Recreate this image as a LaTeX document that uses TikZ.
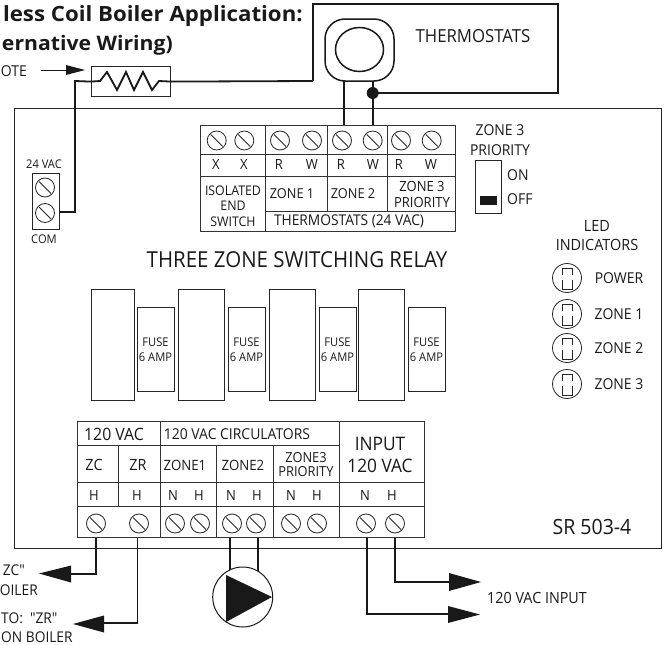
\documentclass[tikz,border=0pt]{standalone}
\usepackage{fontspec}
\usetikzlibrary{shapes.geometric}
\setmainfont[FakeStretch=0.93]{Open Sans}
\newfontfamily\titlefont[FakeStretch=1.06]{Open Sans}
\newfontfamily\rawfont[FakeStretch=0.93]{Open Sans}
\tikzset{
  box/.style={draw=black!85,line width=1pt},
  cell/.style={draw=black!80,line width=0.9pt},
  wire/.style={draw=black!90,line width=1.8pt},
  lab/.style={inner sep=0pt,text=black!90,align=center,font=\fontsize{#1}{#1}\selectfont},
  lab/.default=14,
  titletext/.style={inner sep=0pt,anchor=base east,text=black!90,font=\titlefont\bfseries\fontsize{#1}{#1}\selectfont},
  screwring/.style={circle,draw=black!85,line width=0.8pt,minimum size=19pt,inner sep=0pt,
    path picture={\draw[black!85,line width=0.8pt] (path picture bounding box.north west)++(3.5pt,-3.5pt) -- ([xshift=-3.5pt,yshift=3.5pt]path picture bounding box.south east);}},
  ledring/.style={circle,draw=black!85,line width=0.8pt,minimum size=29pt,inner sep=0pt},
  tipend/.style={fill=black!90,draw=none}
}
\newcommand{\ledglyph}[1]{%
  \draw[black!85,line width=0.8pt] (#1)++(-5,-3) -- ++(0,-7) -- ++(10,0) -- ++(0,7);
  \draw[black!85,line width=0.8pt] (#1)++(-5,2) -- ++(0,9) -- ++(10,0) -- ++(0,-9);}
\begin{document}
\begin{tikzpicture}[x=1pt,y=-1pt]
\useasboundingbox (0,0) rectangle (665,645);
% title
\node[titletext=21] (t1) at (303,21) {less Coil Boiler Application:};
\node[titletext=20] (t2) at (173,50) {ernative Wiring)};
\node[lab=15,anchor=east] (note) at (27,71) {OTE};
\coordinate (noteS) at (41,70);
\coordinate (noteB) at (66,70);
\draw[wire,line width=1pt] (noteS) -- (noteB);
\fill[tipend] (66,65) -- (85,70) -- (66,75) -- cycle;
% main case
\node[box,minimum width=647pt,minimum height=440.5pt,inner sep=0pt,anchor=north west] (main) at (14,107.5) {};
% thermostats
\coordinate (tbLeft) at (313,81);
\coordinate (tbDot) at (372.7,93);
\draw[wire] (tbLeft) -- (313,4) -- (558,4) -- (558,93) -- (tbDot);
\node[draw=black!90,line width=1.5pt,rounded corners=20pt,minimum width=69pt,minimum height=62pt,inner sep=0pt] (stat) at (359.5,50) {};
\node[ellipse,draw=black!90,line width=1.5pt,minimum width=48pt,minimum height=44pt,inner sep=0pt] (dial) at (359.5,49.5) {};
\node[lab=18] (thermo) at (473,36) {THERMOSTATS};
\fill[black!90] (tbDot) circle (6);
% resistor
\node[draw=black!85,line width=1.2pt,minimum width=79pt,minimum height=30pt,inner sep=0pt,anchor=north west] (res) at (91,66) {};
\draw[wire] (res.east) -- (tbLeft);
\draw[wire] (res.west) -- (100,81) -- (107,72) -- (117,90) -- (126,72) -- (134,90) -- (143,72) -- (152,90) -- (159,81) -- (res.east);
% 24 VAC
\node[box,minimum width=27pt,minimum height=56pt,inner sep=0pt,anchor=north west] (ac) at (32,173) {};
\node[lab=12] (ac1) at (44,164) {24 VAC};
\node[lab=12] (ac2) at (44,239.5) {COM};
\node[screwring,minimum size=19pt] (acs1) at (45,187.5) {};
\node[screwring,minimum size=19pt] (acs2) at (45,213) {};
\coordinate (acW) at (59,212);
\draw[wire] (res.west) -- (75,81) -- (75,212) -- (acW);
% top terminal block
\coordinate (blockT) at (0,125);
\draw[cell] (200,125) rectangle (455.7,231);
\draw[cell] (200,154.5) -- (455.7,154.5) (200,176) -- (455.7,176) (265,211) -- (455.7,211);
\draw[cell] (265,125) -- (265,231) (327.3,125) -- (327.3,211) (387.7,125) -- (387.7,211);
\foreach \n/\x in {a/216.7,b/244.3,c/280,d/312,e/342,f/372.7,g/401,h/431.7}
  \node[screwring] (ts\n) at (\x,140.5) {};
\foreach \n/\x/\t in {a/216/X,b/244/X,c/279/R,d/312/W,e/341/R,f/373/W,g/399/R,h/431/W}
  \node[lab=14] (tl\n) at (\x,165) {\t};
\node[lab=13.3,align=center] (iso) at (233,206) {ISOLATED\\[2.2pt]END\\[2.2pt]SWITCH};
\node[lab=13.7] (z1) at (292,194) {ZONE 1};
\node[lab=13.7] (z2) at (353,194) {ZONE 2};
\node[lab=14,align=center] (z3) at (422,194) {ZONE 3\\[2pt]PRIORITY};
\node[lab=14.8] (tv) at (349,221) {THERMOSTATS (24 VAC)};
\draw[wire] (344,81) -- (344,125);
\draw[wire] (tbDot |- stat.south) -- (tsf |- blockT);
% priority switch
\node[lab=15,align=center] (zp) at (500,140) {ZONE 3\\[4.5pt]PRIORITY};
\node[box,minimum width=25.5pt,minimum height=53pt,inner sep=0pt,anchor=north west] (sw) at (475,160) {};
\node[fill=black!90,minimum width=17pt,minimum height=8.5pt,inner sep=0pt] (slide) at (488.5,200.3) {};
\node[lab=15,anchor=west] (on) at (507,175) {ON};
\node[lab=15,anchor=west] (off) at (507,199) {OFF};
% LEDs
\node[lab=15.5,align=center] (ledt) at (597,235.5) {LED\\[3.5pt]INDICATORS};
\foreach \n/\y/\t in {p/278/POWER,a/314/ZONE 1,b/348/ZONE 2,c/384/ZONE 3}{
  \node[ledring] (led\n) at (567,\y) {};
  \ledglyph{led\n}
  \node[lab=15] (ledl\n) at (619,\y) {\t};
}
% title of relay
\node[lab=22] (relay) at (297,260) {THREE ZONE SWITCHING RELAY};
% relays and fuses
\foreach \n/\x/\w in {a/90.7/43.3,b/178/46,c/269/46,d/358/46}
  \node[box,minimum width=\w pt,minimum height=110.5pt,inner sep=0pt,anchor=north west] (rel\n) at (\x,289) {};
\foreach \n/\x in {a/137,b/228,c/319,d/408}{
  \node[box,minimum width=37pt,minimum height=84pt,inner sep=0pt,anchor=north west] (fus\n) at (\x,307) {};
  \node[lab=12,align=center] (ful\n) at (\x+18.5,349.5) {FUSE\\[3pt]6 AMP};
}
% bottom terminal block
\draw[cell] (77,421.7) rectangle (424.7,537.7);
\draw[cell] (77,445.5) -- (339,445.5) (77,482.5) -- (424.7,482.5) (77,506.5) -- (424.7,506.5);
\draw[cell] (160.5,421.7) -- (160.5,537.7) (118,445.5) -- (118,506.5) (216,445.5) -- (216,537.7) (273.5,445.5) -- (273.5,537.7) (339,421.7) -- (339,537.7);
\node[lab=17] (b1) at (114,434) {120 VAC};
\node[lab=15] (b2) at (237,434) {120 VAC CIRCULATORS};
\node[lab=15.5] (bzc) at (94,465) {ZC};
\node[lab=15.5] (bzr) at (138,465) {ZR};
\node[lab=14.2] (bz1) at (185,465) {ZONE1};
\node[lab=14.2] (bz2) at (243,465) {ZONE2};
\node[lab=13.8,align=center] (bz3) at (306,464.5) {ZONE3\\[1pt]PRIORITY};
\node[lab=18.6,align=center] (binp) at (380,455) {INPUT\\[3.4pt]120 VAC};
\foreach \n/\x/\t in {a/94/H,b/137/H,c/173/N,d/199/H,e/231/N,f/257/H,g/291/N,h/317/H,i/365/N,j/392/H}
  \node[lab=14] (bh\n) at (\x,495.5) {\t};
\foreach \n/\x in {a/96,b/139,c/175,d/200,e/232,f/256,g/291,h/317,i/366,j/395}
  \node[screwring] (bs\n) at (\x,523.5) {};
\node[lab=21] (model) at (592,527) {SR 503-4};
% outgoing wires
\coordinate (zcE) at (70,574);
\coordinate (zrE) at (103,623);
\coordinate (nE) at (449,614);
\coordinate (hE) at (449,581.7);
\draw[wire] (96,537.7) |- (zcE);
\fill[tipend] (71,565.5) -- (39,573.5) -- (71,582.5) -- cycle;
\draw[wire] (137.5,537.7) |- (zrE);
\fill[tipend] (104,615.5) -- (73,624) -- (104,632.5) -- cycle;
\draw[wire] (366.7,537.7) |- (nE);
\fill[tipend] (448,606) -- (480,614.5) -- (448,623) -- cycle;
\draw[wire] (394.7,537.7) |- (hE);
\fill[tipend] (449,573) -- (481,582) -- (449,591) -- cycle;
\node[lab=15.4] (inp) at (537,598) {120 VAC INPUT};
\node[lab=14.8,anchor=east] (zc1) at (25,570) {\rawfont ZC"};
\node[lab=14.8,anchor=east] (zc2) at (38,590) {OILER};
\node[lab=14.8,anchor=west] (zr1) at (1,618) {\rawfont TO: \ "ZR"};
\node[lab=14.8,anchor=west] (zr2) at (1,637.5) {ON BOILER};
% pump
\node[circle,draw=black!90,line width=1pt,minimum size=60pt,inner sep=0pt] (pump) at (242.7,597) {};
\draw[wire] (230,537.7) -- (230,570);
\draw[wire] (257.7,537.7) -- (257.7,571);
\fill[black!90] (226,575) -- (272,597) -- (226,622) -- cycle;
\end{tikzpicture}
\end{document}
